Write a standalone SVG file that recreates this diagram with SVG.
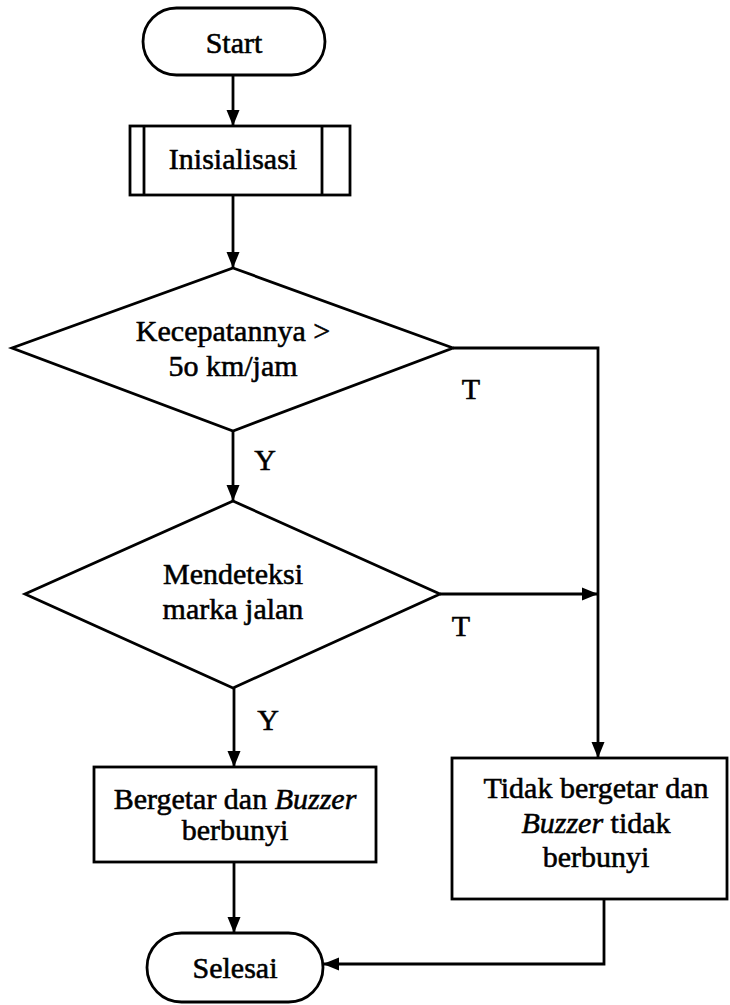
<svg xmlns="http://www.w3.org/2000/svg" width="730" height="1005" viewBox="0 0 730 1005">
  <style>
    .shape { fill: #ffffff; stroke: #000000; stroke-width: 2.8; }
    .line { fill: none; stroke: #000000; stroke-width: 2.8; }
    text { font-family: 'Liberation Serif', 'Times New Roman', Times, 'DejaVu Serif', serif; font-size: 30px; fill: #000000; text-anchor: middle; stroke: #000000; stroke-width: 0.55; }
    .em { font-style: italic; }
  </style>
  <defs>
    <marker id="arrow" markerUnits="userSpaceOnUse" markerWidth="18" markerHeight="18" viewBox="0 0 18 18" refX="16" refY="9" orient="auto">
      <path d="M0,2.5 L16,9 L0,15.5 Z" fill="#000000"/>
    </marker>
  </defs>

  <rect width="730" height="1005" fill="#ffffff"/>

  <!-- connectors -->
  <g id="connectors">
    <line class="line" x1="233" y1="75" x2="233" y2="126" marker-end="url(#arrow)"/>
    <line class="line" x1="233" y1="195" x2="233" y2="268" marker-end="url(#arrow)"/>
    <line class="line" x1="233" y1="431" x2="233" y2="501" marker-end="url(#arrow)"/>
    <polyline class="line" points="453,348 598,348 598,758" marker-end="url(#arrow)"/>
    <line class="line" x1="440" y1="594" x2="598" y2="594" marker-end="url(#arrow)"/>
    <line class="line" x1="234" y1="688" x2="234" y2="767" marker-end="url(#arrow)"/>
    <line class="line" x1="234" y1="862" x2="234" y2="933" marker-end="url(#arrow)"/>
    <polyline class="line" points="604,899 604,964 323,964" marker-end="url(#arrow)"/>
    <text x="471" y="399">T</text>
    <text x="265" y="470">Y</text>
    <text x="461" y="636">T</text>
    <text x="268" y="730">Y</text>
  </g>

  <!-- start terminal -->
  <g id="start">
    <rect class="shape" x="143" y="8" width="182" height="67" rx="33.5" ry="33.5"/>
    <text x="234" y="53">Start</text>
  </g>

  <!-- predefined process -->
  <g id="inisialisasi">
    <rect class="shape" x="130" y="126" width="220" height="69"/>
    <line class="line" x1="144" y1="126" x2="144" y2="195"/>
    <line class="line" x1="322" y1="126" x2="322" y2="195"/>
    <text x="233" y="169">Inisialisasi</text>
  </g>

  <!-- speed check -->
  <g id="cek-kecepatan">
    <polygon class="shape" points="233,268 453,348 233,431 12,348"/>
    <text x="233" y="341">Kecepatannya &gt;</text>
    <text x="233" y="376">5o km/jam</text>
  </g>

  <!-- road marking check -->
  <g id="cek-marka">
    <polygon class="shape" points="233,501 440,594 233,688 25,594"/>
    <text x="233" y="584">Mendeteksi</text>
    <text x="233" y="619">marka jalan</text>
  </g>

  <!-- vibrate and buzz -->
  <g id="bergetar">
    <rect class="shape" x="94" y="767" width="282" height="95"/>
    <text x="235" y="809">Bergetar dan <tspan class="em">Buzzer</tspan></text>
    <text x="235" y="840">berbunyi</text>
  </g>

  <!-- no vibration, no buzz -->
  <g id="tidak-bergetar">
    <rect class="shape" x="452" y="758" width="275" height="141"/>
    <text x="596" y="798">Tidak bergetar dan</text>
    <text x="596" y="833"><tspan class="em">Buzzer</tspan> tidak</text>
    <text x="596" y="867">berbunyi</text>
  </g>

  <!-- end terminal -->
  <g id="selesai">
    <rect class="shape" x="147" y="933" width="176" height="69" rx="34.5" ry="34.5"/>
    <text x="235" y="978">Selesai</text>
  </g>
</svg>
